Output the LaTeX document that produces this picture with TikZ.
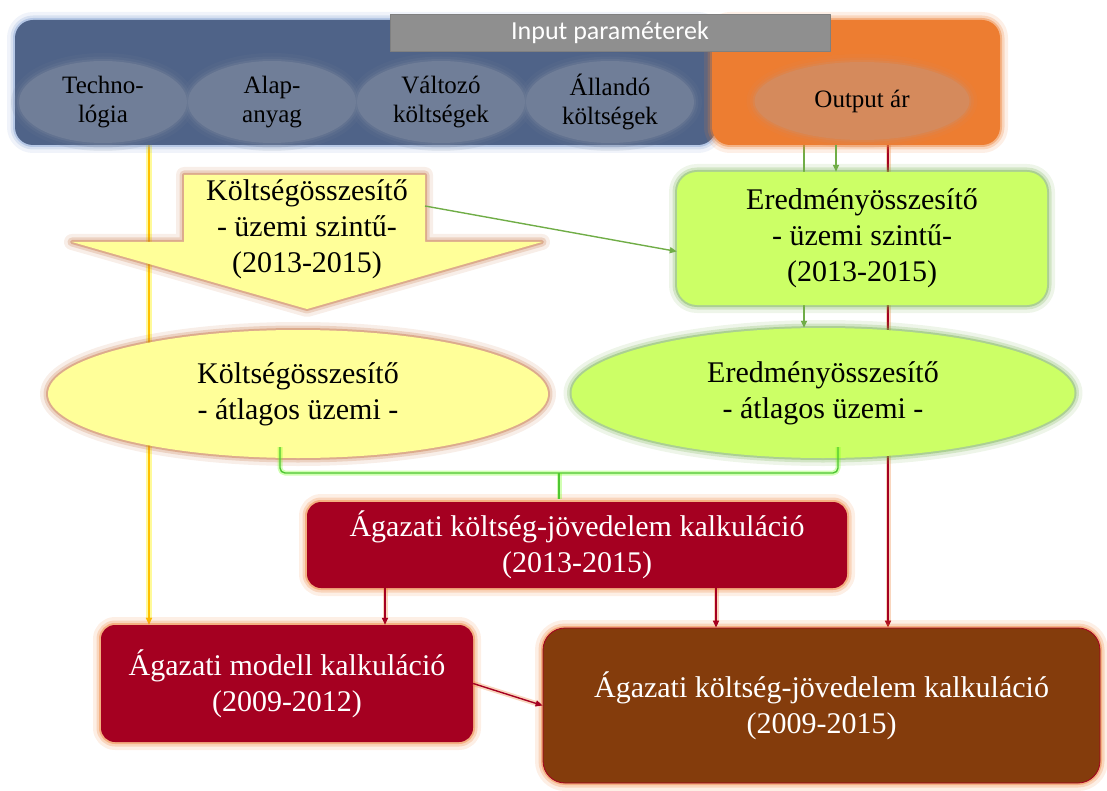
\documentclass[tikz,border=0pt]{standalone}
\usepackage{fontspec}
\setmainfont{Liberation Serif}
\newfontfamily\barfont{Carlito}
\usetikzlibrary{arrows.meta,shapes.geometric,calc,backgrounds}
\definecolor{topblue}{RGB}{79,99,136}
\definecolor{blueglow}{RGB}{130,160,210}
\definecolor{paleblue}{RGB}{112,126,152}
\definecolor{outorange}{RGB}{237,125,49}
\definecolor{outpale}{RGB}{213,138,92}
\definecolor{bargrey}{RGB}{143,143,143}
\definecolor{paleyellow}{RGB}{255,255,153}
\definecolor{palegreen}{RGB}{204,255,102}
\definecolor{darkgreen}{RGB}{112,173,71}
\definecolor{wine}{RGB}{165,0,33}
\definecolor{rust}{RGB}{132,60,12}
\definecolor{glowbrown}{RGB}{196,112,62}
\definecolor{glowred}{RGB}{236,120,40}
\definecolor{gold}{RGB}{255,192,0}

\begin{document}
\begin{tikzpicture}[x=1pt,y=-1pt,line join=round,
   glow/.style={preaction={draw=#1,line width=16pt,opacity=.12},
                preaction={draw=#1,line width=9pt,opacity=.22},
                preaction={draw=#1,line width=4pt,opacity=.4}},
   big/.style={font=\fontsize{30}{36}\selectfont,align=center},
   small/.style={font=\fontsize{25}{29}\selectfont,align=center},
   rbox/.style={big,rounded corners=14pt,inner sep=0pt},
   pill/.style={ellipse,inner sep=0pt},
   conn/.style={line width=1.4pt,-{Triangle[length=7pt,width=6pt]}},
   gline/.style={conn,draw=darkgreen},
   rline/.style={conn,draw=wine,preaction={draw=glowred,line width=5pt,opacity=.3}},
   yline/.style={conn,draw=gold,preaction={draw=yellow,line width=6pt,opacity=.4}},
   brace/.style={line width=1.4pt,draw=darkgreen!70!green,rounded corners=5pt,
                 preaction={draw=green!60!yellow,line width=5pt,opacity=.3}}]
  \useasboundingbox (0,0) rectangle (1107,791);

  % input / output bar
  \node[glow=blueglow,fill=topblue,rounded corners=18pt,minimum width=701pt,minimum height=125pt]
       (inp) at (365.5,82.5) {};
  \node[glow=outorange,fill=outorange,rounded corners=18pt,minimum width=288pt,minimum height=125pt]
       (outp) at (856,82.5) {};
  \node[fill=bargrey,draw=gray,minimum width=440pt,minimum height=37pt,text=white,
        font=\barfont\fontsize{26}{30}\selectfont] (bar) at (610,32.5) {Input paraméterek};
  \node[pill,small,glow=paleblue,fill=paleblue,minimum width=168pt,minimum height=82pt]
       (tech) at (103,102) {Techno-\\lógia};
  \node[pill,small,glow=paleblue,fill=paleblue,minimum width=168pt,minimum height=82pt]
       (alap) at (272,102) {Alap-\\anyag};
  \node[pill,small,glow=paleblue,fill=paleblue,minimum width=168pt,minimum height=82pt]
       (valt) at (441,102) {Változó\\költségek};
  \node[pill,small,glow=paleblue,fill=paleblue,minimum width=168pt,minimum height=82pt]
       (alla) at (610,102) {Állandó\\költségek};
  \node[pill,small,glow=outpale,fill=outpale,minimum width=215pt,minimum height=78pt]
       (outar) at (862,101) {Output ár};

  % down arrow with the plant level costs
  \fill[paleyellow,glow=glowbrown] (184,175) -- (425,175) -- (425,242) -- (542,242)
       -- (307,309) -- (72,242) -- (184,242) -- cycle;
  \node[big] (kossz) at (307,229) {Költségösszesítő\\- üzemi szintű-\\(2013-2015)};
  \coordinate (kout) at (425,206);

  \node[rbox,glow=darkgreen,fill=palegreen,rounded corners=20pt,minimum width=370pt,minimum height=133pt]
       (eredm) at (862,238.5) {Eredményösszesítő\\- üzemi szintű-\\(2013-2015)};

  \node[pill,big,glow=glowbrown,fill=paleyellow,minimum width=500pt,minimum height=128pt]
       (katl) at (298,394) {Költségösszesítő\\- átlagos üzemi -};
  \node[pill,big,glow=darkgreen,fill=palegreen,minimum width=503pt,minimum height=130pt]
       (eatl) at (823,393) {Eredményösszesítő\\- átlagos üzemi -};

  \node[rbox,glow=glowred,fill=wine,text=white,minimum width=540pt,minimum height=86pt]
       (agk) at (577,545) {Ágazati költség-jövedelem kalkuláció\\(2013-2015)};
  \node[rbox,glow=glowred,fill=wine,text=white,minimum width=372pt,minimum height=117pt]
       (modell) at (287,683.5) {Ágazati modell kalkuláció\\(2009-2012)};
  \node[rbox,glow=glowred,fill=rust,draw=wine,line width=.8pt,text=white,rounded corners=22pt,
        minimum width=557pt,minimum height=155pt]
       (kk) at (821.5,705.5) {Ágazati költség-jövedelem kalkuláció\\(2009-2015)};

  \coordinate (ytop) at (149,145);
  \coordinate (g1) at (836,145);
  \coordinate (g2) at (804,145);
  \coordinate (r1) at (888,145);
  \coordinate (bl) at (280,447);
  \coordinate (br) at (838,447);

  \begin{scope}[on background layer]
    \draw[yline] (ytop) -- (ytop |- modell.north);
    \draw[gline] (g2) -- (g2 |- eatl.north);
    \draw[rline] (r1) -- (r1 |- kk.north);
  \end{scope}
  \draw[gline] (g1) -- (g1 |- eredm.north);
  \draw[gline] (kout) -- (eredm.184);
  \draw[brace] (bl) -- ++(0,26) -- ($(br)+(0,26)$) -- (br);
  \draw[brace] ($(bl)!.5!(br)+(0,26)$) -- ($(bl)!.5!(br)+(0,52)$);
  \draw[rline] ([xshift=-192pt]agk.south) -- ([xshift=-192pt]agk.south |- modell.north);
  \draw[rline] ([xshift=139pt]agk.south) -- ([xshift=139pt]agk.south |- kk.north);
  \draw[rline] (modell.east) -- (kk.west);
\end{tikzpicture}
\end{document}
